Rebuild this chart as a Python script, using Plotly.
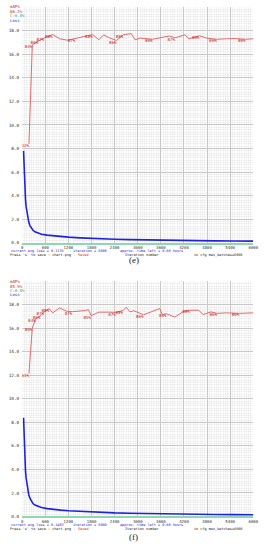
import plotly.graph_objects as go

W, H = 271, 550

# ---------------- data : panel (e) ----------------
e_loss_iter = [35, 45, 55, 70, 85, 100, 120, 140, 170, 200, 240, 280, 330, 400, 500,
               650, 800, 1000, 1200, 1500, 1800, 2100, 2400, 2800, 3200, 3600, 4000, 4500, 5000, 5500, 6000]
e_loss = [7.8, 6.6, 5.4, 4.4, 3.7, 3.1, 2.6, 2.2, 1.75, 1.45, 1.2, 1.05, 0.92, 0.82, 0.72,
          0.64, 0.58, 0.52, 0.47, 0.41, 0.36, 0.32, 0.29, 0.26, 0.23, 0.21, 0.19, 0.17, 0.155, 0.145, 0.135]
e_map_iter = [175, 262, 415, 565, 790, 975, 1180, 1380, 1600, 1830, 1990, 2115, 2245, 2450, 2625, 2830,
              2930, 3060, 3385, 3600, 3820, 3970, 4225, 4330, 4605, 4780, 5050, 5300, 5560, 5800, 6000]
e_map = [42.0, 84.0, 85.6, 86.9, 88.4, 86.6, 86.0, 86.7, 87.3, 88.4, 86.2, 88.3, 87.1, 85.9, 88.3, 88.8,
         86.2, 86.9, 86.4, 87.1, 87.8, 87.0, 88.3, 86.6, 87.9, 86.9, 86.4, 86.6, 86.7, 86.4, 86.6]
e_label_iter = [175, 262, 415, 565, 790, 1380, 1830, 2450, 2625, 3385, 3970, 4605, 5050, 5800]
e_best = "86.2%"
e_avg_loss = "0.1335"

# ---------------- data : panel (f) ----------------
f_loss_iter = e_loss_iter
f_loss = [8.4, 7.1, 5.8, 4.7, 3.9, 3.3, 2.75, 2.3, 1.85, 1.55, 1.28, 1.1, 0.97, 0.86, 0.76,
          0.67, 0.6, 0.54, 0.49, 0.43, 0.38, 0.34, 0.31, 0.28, 0.25, 0.225, 0.205, 0.185, 0.17, 0.158, 0.148]
f_map_iter = [175, 262, 350, 470, 570, 700, 790, 970, 1150, 1300, 1650, 1720, 1790, 1990, 2240, 2430,
              2620, 2700, 2800, 2900, 3150, 3570, 3640, 3750, 3960, 4200, 4350, 4580, 4700, 4900, 5060,
              5300, 5640, 6000]
f_map = [60.8, 80.2, 84.1, 85.2, 87.0, 88.4, 86.6, 88.7, 87.3, 87.1, 87.6, 88.0, 85.4, 86.9, 86.9, 86.8,
         87.6, 89.0, 87.0, 87.5, 85.8, 88.4, 85.9, 86.2, 84.8, 87.3, 87.7, 87.7, 85.9, 87.0, 86.4,
         86.6, 86.4, 86.6]
f_label_iter = [175, 262, 350, 470, 570, 700, 1300, 1790, 2430, 2620, 3150, 3750, 4350, 5060, 5640]
f_best = "85.9%"
f_avg_loss = "0.1483"

x_ticks = [0, 600, 1200, 1800, 2400, 3000, 3600, 4200, 4800, 5400, 6000]
y_ticks = [0, 2, 4, 6, 8, 10, 12, 14, 16, 18]

# ---------------- style ----------------
RED_LINE = "#e06a6a"
RED_TXT = "#cc2020"
BLUE = "#1e22e0"
GREEN = "#2aa86a"
MONO = "DejaVu Sans Mono"


def px(x):
    return x / W


def py(y):
    return 1 - y / H


panels = [
    (e_loss_iter, e_loss, e_map_iter, e_map, e_label_iter, e_best, e_avg_loss, 244.0, 7.3, "(e)", 0),
    (f_loss_iter, f_loss, f_map_iter, f_map, f_label_iter, f_best, f_avg_loss, 519.3, 282.9, "(f)", 276.3),
]

fig = go.Figure()
annotations = []
layout = dict(
    width=W, height=H, margin=dict(l=0, r=0, t=0, b=0),
    paper_bgcolor="white", plot_bgcolor="white", showlegend=False,
)

x_dom = [21.7 / W, 258.0 / W]

for k, (li, lv, mi, mv, lab_i, best, avg, zero_px, top_px, cap, off) in enumerate(panels):
    xa = "x" if k == 0 else "x2"
    ya = "y" if k == 0 else "y3"
    ya_map = "y2" if k == 0 else "y4"
    xname = "xaxis" if k == 0 else "xaxis2"
    yname = "yaxis" if k == 0 else "yaxis3"
    ymname = "yaxis2" if k == 0 else "yaxis4"

    y_dom = [py(zero_px), py(top_px)]
    layout[xname] = dict(
        domain=x_dom, anchor=ya, range=[0, 6000], tickvals=x_ticks,
        ticktext=[str(t) for t in x_ticks], ticks="", ticklabelstandoff=0,
        tickfont=dict(family=MONO, size=4.0, color="#333"),
        showgrid=True, gridcolor="#c8c8c8", gridwidth=1,
        minor=dict(dtick=60, tick0=0, showgrid=True, gridcolor="rgba(0,0,0,0.045)", gridwidth=1),
        showline=True, linecolor="#8fd6b2", linewidth=1.5, zeroline=False, fixedrange=True,
    )
    layout[yname] = dict(
        domain=y_dom, anchor=xa, range=[0, 20], tickvals=y_ticks,
        ticktext=["%.1f" % t for t in y_ticks], ticks="", ticklabelstandoff=2,
        tickfont=dict(family=MONO, size=4.4, color="#333"),
        showgrid=True, gridcolor="#c8c8c8", gridwidth=1,
        minor=dict(dtick=0.2, tick0=0, showgrid=True, gridcolor="rgba(0,0,0,0.045)", gridwidth=1),
        showline=False, zeroline=False, fixedrange=True,
    )
    layout[ymname] = dict(
        domain=y_dom, anchor=xa, overlaying=ya, range=[0, 100], visible=False, fixedrange=True,
    )

    fig.add_trace(go.Scatter(x=li, y=lv, xaxis=xa, yaxis=ya, mode="lines",
                             line=dict(color=BLUE, width=1.6), hoverinfo="skip"))
    fig.add_trace(go.Scatter(x=mi, y=mv, xaxis=xa, yaxis=ya_map, mode="lines",
                             line=dict(color=RED_LINE, width=1), hoverinfo="skip"))
    lyv = [mv[mi.index(i)] for i in lab_i]
    fig.add_trace(go.Scatter(x=lab_i, y=lyv, xaxis=xa, yaxis=ya_map, mode="text",
                             text=["%d%%" % round(v) for v in lyv], textposition="bottom left",
                             textfont=dict(family=MONO, size=4.2, color=RED_TXT), hoverinfo="skip"))

    for txt, col, yy in [("mAP%", RED_TXT, 6.7), (best, RED_TXT, 11.3),
                         ("C:0.8%", GREEN, 15.9), ("Loss", BLUE, 20.3)]:
        annotations.append(dict(text=txt, x=px(7.5), y=py(yy + off), xref="paper", yref="paper",
                                xanchor="left", yanchor="middle", showarrow=False,
                                font=dict(family=MONO, size=4.0, color=col)))

    l1 = zero_px + 8.3
    l2 = zero_px + 12.6
    for txt, col, xx, yy in [
        ("current avg loss = " + avg, BLUE, 8, l1),
        ("iteration = 6000", BLUE, 72, l1),
        ("approx. time left = 0.00 hours", BLUE, 120, l1),
        ("Press 's' to save : chart.png - ", "#222", 7, l2),
        ("Saved", "#e02020", 77, l2),
        ("Iteration number", "#222", 125, l2),
        ("in cfg max_batches=6000", "#222", 195, l2),
    ]:
        annotations.append(dict(text=txt, x=px(xx), y=py(yy), xref="paper", yref="paper",
                                xanchor="left", yanchor="middle", showarrow=False,
                                font=dict(family=MONO, size=3.5, color=col)))

    cap_y = 261.7 if k == 0 else 540.0
    annotations.append(dict(text=cap, x=px(136), y=py(cap_y), xref="paper", yref="paper",
                            xanchor="center", yanchor="middle", showarrow=False,
                            font=dict(family="Liberation Serif", size=9, color="#222")))

layout["annotations"] = annotations
fig.update_layout(**layout)
fig.write_html("out.html", config={"displayModeBar": False},
               post_script="document.body.style.margin='0';")
